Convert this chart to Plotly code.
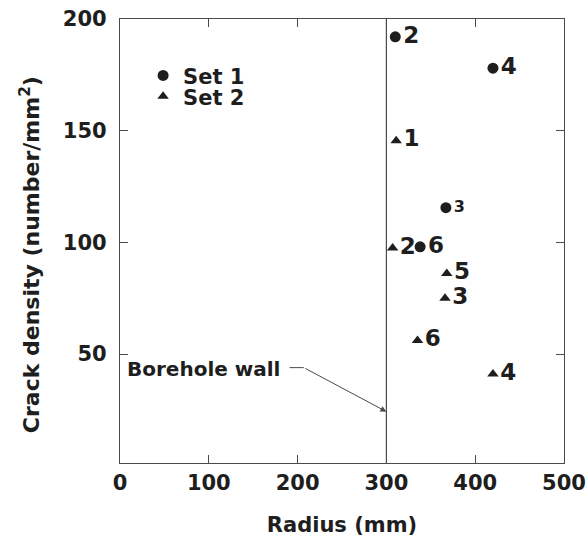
import plotly.graph_objects as go

# Set 1 (circles)
set1_radius = [310, 420, 367, 338]
set1_density = [192, 178, 115.5, 98]
set1_labels = ["2", "4", "3", "6"]
set1_label_sizes = [23, 23, 16, 23]

# Set 2 (triangles)
set2_radius = [311, 307, 368, 366, 335, 420]
set2_density = [145.5, 97.5, 86, 75, 56, 41]
set2_labels = ["1", "2", "5", "3", "6", "4"]

x_ticks = [0, 100, 200, 300, 400, 500]
y_ticks = [50, 100, 150, 200]

FONT = "DejaVu Sans"
INK = "#1e1e1e"
LINE = "#4a4a4a"

def f(size):
    return dict(family=FONT, size=size, color=INK, weight="bold")

fig = go.Figure()
fig.add_trace(go.Scatter(
    x=set1_radius, y=set1_density, mode="markers+text", name="Set 1",
    text=set1_labels, textposition="middle right",
    textfont=dict(family=FONT, size=set1_label_sizes, color=INK, weight="bold"),
    marker=dict(symbol="circle", size=11, color=INK),
    legend="legend", cliponaxis=False,
))
fig.add_trace(go.Scatter(
    x=set2_radius, y=set2_density, mode="markers+text", name="Set 2",
    text=set2_labels, textposition="middle right",
    textfont=f(23),
    marker=dict(symbol="triangle-up", size=10, color=INK),
    legend="legend2", cliponaxis=False,
))

# Borehole wall line at r = 300
fig.add_shape(type="line", xref="x", yref="paper", x0=300, x1=300, y0=0, y1=1,
              line=dict(color=LINE, width=1.2))
# leader line (horizontal part)
fig.add_shape(type="line", xref="x", yref="y", x0=191, x1=207, y0=43.9, y1=43.9,
              line=dict(color=LINE, width=1))
fig.add_annotation(x=300, y=24.2, ax=207, ay=43.9, xref="x", yref="y",
                   axref="x", ayref="y", text="", showarrow=True,
                   arrowhead=2, arrowsize=1.2, arrowwidth=1, arrowcolor=LINE)
fig.add_annotation(x=6, y=43.3, xref="x", yref="y", text="Borehole wall",
                   showarrow=False, xanchor="left", yanchor="middle",
                   font=f(20))

# y-axis title (placed as a rotated annotation to match the reference position)
fig.add_annotation(x=0, y=0.468, xref="paper", yref="paper", xshift=-90,
                   text="Crack density (number/mm<sup>2</sup>)", textangle=-90,
                   showarrow=False, xanchor="center", yanchor="middle",
                   font=f(22))

fig.update_layout(
    template="none",
    width=588, height=540,
    margin=dict(l=120, r=24, t=19, b=77, autoexpand=False),
    paper_bgcolor="white", plot_bgcolor="white",
    font=f(21),
    showlegend=True,
    legend=dict(x=0.052, y=0.872, xanchor="left", yanchor="middle",
                bgcolor="rgba(0,0,0,0)", font=f(21),
                itemwidth=30, borderwidth=0),
    legend2=dict(x=0.052, y=0.825, xanchor="left", yanchor="middle",
                 bgcolor="rgba(0,0,0,0)", font=f(21),
                 itemwidth=30, borderwidth=0),
    xaxis=dict(
        range=[0, 500], tickvals=x_ticks, ticktext=[str(v) for v in x_ticks],
        ticks="inside", ticklen=8, tickcolor=LINE, showline=True, linecolor=LINE,
        linewidth=1.2, mirror="ticks", showgrid=False, zeroline=False, automargin=False,
        tickfont=f(21), ticklabelstandoff=1, ticklabeloverflow="allow",
        title=dict(text="Radius (mm)", font=f(21), standoff=23),
    ),
    yaxis=dict(
        range=[1.2, 200], tickvals=y_ticks, ticktext=[str(v) for v in y_ticks],
        ticks="inside", ticklen=8, tickcolor=LINE, showline=True, linecolor=LINE,
        linewidth=1.2, mirror="ticks", showgrid=False, zeroline=False, automargin=False,
        tickfont=f(21), ticklabelstandoff=8, ticklabeloverflow="allow",
    ),
)

# Remove the browser's default 8px body margin so the figure fills the window.
fig.write_html(
    "out.html",
    config={"displayModeBar": False},
    post_script="document.body.style.margin='0';document.body.style.overflow='hidden';",
)
